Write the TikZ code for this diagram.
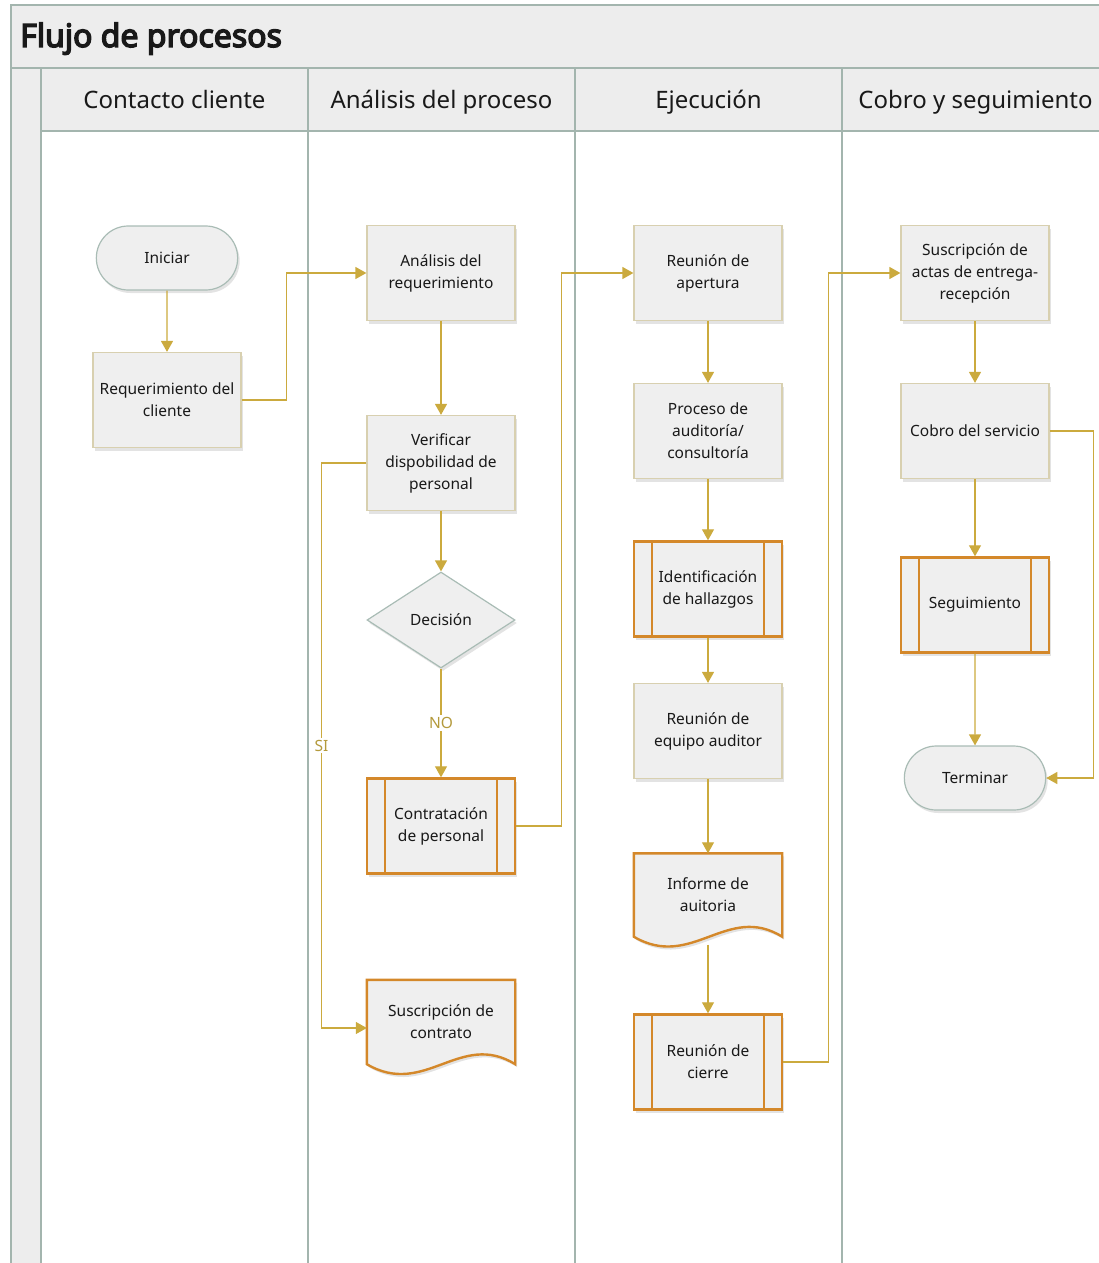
\documentclass[tikz,border=0pt]{standalone}
\usepackage{fontspec}
\setmainfont{Noto Sans}
\newfontfamily\titlefont{Noto Sans}[FakeBold=4.5]
\usetikzlibrary{shapes.geometric,shapes.misc,arrows.meta,shadows,backgrounds}
\definecolor{lanegray}{HTML}{A3B5AE}
\definecolor{headfill}{HTML}{EDEDED}
\definecolor{boxfill}{HTML}{EFEFEF}
\definecolor{boxtan}{HTML}{D8D0B0}
\definecolor{termline}{HTML}{A9BCB5}
\definecolor{procorange}{HTML}{D4882A}
\definecolor{flowgold}{HTML}{CBAA3E}
\definecolor{labelgold}{HTML}{B49A3C}

\newcommand{\docpath}[1]{%
  \begin{scope}[on background layer]
  \filldraw[docline] (#1.south west) -- (#1.north west) -- (#1.north east) -- (#1.south east)
    .. controls +(-55,-34) and +(58,34) .. (#1.south west) -- cycle;
  \end{scope}}

\begin{document}
\begin{tikzpicture}[x=1pt,y=-1pt,
  every node/.style={font=\fontsize{15.5}{22}\selectfont,text=black!90},
  shade/.style={drop shadow={opacity=0.22,shadow xshift=2pt,shadow yshift=-3pt}},
  box/.style={draw=boxtan,line width=1.2pt,fill=boxfill,minimum width=148pt,minimum height=95pt,align=center,inner sep=2pt,shade},
  term/.style={rounded rectangle,draw=termline,line width=1.2pt,fill=boxfill,minimum width=148pt,minimum height=64pt,shade},
  decide/.style={diamond,draw=termline,line width=1.2pt,fill=boxfill,minimum width=148pt,minimum height=96pt,inner sep=0pt,shade},
  sub/.style={box,draw=procorange,line width=2.4pt,
    path picture={\draw[procorange,line width=2.4pt]
      ([xshift=18pt]path picture bounding box.north west) -- ([xshift=18pt]path picture bounding box.south west)
      ([xshift=-18pt]path picture bounding box.north east) -- ([xshift=-18pt]path picture bounding box.south east);}},
  docbox/.style={minimum width=148pt,minimum height=84pt,align=center,inner sep=2pt},
  docline/.style={draw=procorange,line width=2.4pt,fill=boxfill,shade},
  lane/.style={draw=lanegray,line width=1.8pt},
  flow/.style={draw=flowgold,line width=1.2pt,-{Triangle[length=11pt,width=12pt]}},
  flowlabel/.style={fill=white,text=labelgold,inner sep=2pt,font=\fontsize{15.5}{15.5}\selectfont},
  lanehead/.style={anchor=base,font=\fontsize{24}{24}\selectfont}]
\useasboundingbox (0,0) rectangle (1099,1263);
\begin{scope}
\clip (0,0) rectangle (1099,1263);
% pool and lanes
\fill[headfill] (11,5) rectangle (1109,131);
\fill[headfill] (11,68) rectangle (41,1275);
\draw[lane] (11,1275) -- (11,5) -- (1109,5);
\draw[lane] (11,68) -- (1109,68);
\draw[lane] (41,131) -- (1109,131);
\foreach \x in {41,308,575,842,1109}
  \draw[lane] (\x,68) -- (\x,1275);
\end{scope}
\node[anchor=base west,inner sep=0pt,font=\fontsize{32}{32}\titlefont] (title) at (20,47) {Flujo de procesos};
\node[lanehead] (hcontacto) at (174.5,108) {Contacto cliente};
\node[lanehead] (hanalisis) at (441.5,108) {Análisis del proceso};
\node[lanehead] (hejecucion) at (708.5,108) {Ejecución};
\node[lanehead] (hcobro) at (975.5,108) {Cobro y seguimiento};

% contacto cliente
\node[term] (iniciar) at (167,258) {Iniciar};
\node[box] (req) at (167,400) {Requerimiento del\\cliente};
% analisis del proceso
\node[box] (analisis) at (441,273) {Análisis del\\requerimiento};
\node[box] (verificar) at (441,463) {Verificar\\dispobilidad de\\personal};
\node[decide] (decision) at (441,620) {Decisión};
\node[sub] (contratacion) at (441,826) {Contratación\\de personal};
\node[docbox] (contrato) at (441,1022) {Suscripción de\\contrato};
\docpath{contrato}
% ejecucion
\node[box] (apertura) at (708,273) {Reunión de\\apertura};
\node[box] (auditoria) at (708,431) {Proceso de\\auditoría/\\consultoría};
\node[sub] (hallazgos) at (708,589) {Identificación\\de hallazgos};
\node[box] (equipo) at (708,731) {Reunión de\\equipo auditor};
\node[docbox,minimum height=83pt] (informe) at (708,895) {Informe de\\auitoria};
\docpath{informe}
\node[sub] (cierre) at (708,1062) {Reunión de\\cierre};
% cobro y seguimiento
\node[box] (actas) at (975,273) {Suscripción de\\actas de entrega-\\recepción};
\node[box] (cobro) at (975,431) {Cobro del servicio};
\node[sub] (seguimiento) at (975,605) {Seguimiento};
\node[term] (terminar) at (975,778) {Terminar};

% connectors
\draw[flow] (iniciar) -- (req);
\draw[flow] (req.east) -- ++(45,0) |- (analisis.west);
\draw[flow] (analisis) -- (verificar);
\draw[flow] (verificar) -- (decision);
\draw[flow] (decision) -- node[flowlabel]{NO} (contratacion);
\draw[flow] (verificar.west) -- ++(-45,0) |- node[flowlabel,pos=0.25]{SI} ([yshift=-6pt]contrato.west);
\draw[flow] (contratacion.east) -- ++(45,0) |- (apertura.west);
\draw[flow] (apertura) -- (auditoria);
\draw[flow] (auditoria) -- (hallazgos);
\draw[flow] (hallazgos) -- (equipo);
\draw[flow] (equipo) -- (informe);
\draw[flow] ([yshift=-8pt]informe.south) -- (cierre);
\draw[flow] (cierre.east) -- ++(45,0) |- (actas.west);
\draw[flow] (actas) -- (cobro);
\draw[flow] (cobro) -- (seguimiento);
\draw[flow] (seguimiento) -- (terminar);
\draw[flow] (cobro.east) -- ++(44,0) |- (terminar.east);
\end{tikzpicture}
\end{document}
